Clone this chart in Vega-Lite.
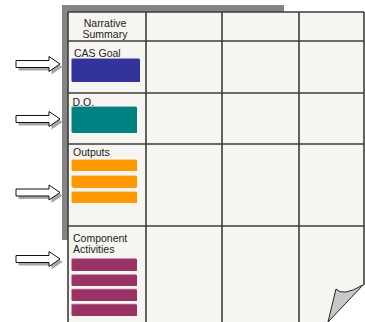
{
  "$schema": "https://vega.github.io/schema/vega-lite/v6.json",
  "width": 365,
  "height": 322,
  "padding": 0,
  "autosize": {"type": "none"},
  "background": "white",
  "config": {"view": {"stroke": null}},
  "encoding": {
    "x": {"field": "x", "type": "quantitative", "axis": null, "scale": {"domain": [0, 365], "nice": false, "zero": false}},
    "y": {"field": "y", "type": "quantitative", "axis": null, "scale": {"domain": [0, 322], "nice": false, "zero": false, "reverse": true}}
  },
  "layer": [
    {
      "data": {"values": [
        {"part": "shadow", "x": 62, "x2": 284, "y": 5, "y2": 240, "c": "#858585"},
        {"part": "page", "x": 68, "x2": 364, "y": 12, "y2": 322, "c": "#f6f5f1"}
      ]},
      "mark": {"type": "rect"},
      "encoding": {
        "x2": {"field": "x2"},
        "y2": {"field": "y2"},
        "color": {"field": "c", "type": "nominal", "scale": null, "legend": null}
      }
    },
    {
      "data": {"values": [
        {"x": 68, "x2": 68, "y": 12, "y2": 322},
        {"x": 146, "x2": 146, "y": 12, "y2": 322},
        {"x": 222, "x2": 222, "y": 12, "y2": 322},
        {"x": 299, "x2": 299, "y": 12, "y2": 322},
        {"x": 364, "x2": 364, "y": 12, "y2": 286},
        {"x": 68, "x2": 364, "y": 12, "y2": 12},
        {"x": 68, "x2": 364, "y": 41, "y2": 41},
        {"x": 68, "x2": 364, "y": 93, "y2": 93},
        {"x": 68, "x2": 364, "y": 144, "y2": 144},
        {"x": 68, "x2": 364, "y": 226, "y2": 226}
      ]},
      "mark": {"type": "rule", "color": "#3c3c3c", "strokeWidth": 1.6},
      "encoding": {"x2": {"field": "x2"}, "y2": {"field": "y2"}}
    },
    {
      "data": {"values": [
        {"x": 72, "x2": 140, "y": 59, "y2": 82, "c": "#333399", "d": "#1c1c66", "l": "#7777cc"},
        {"x": 72, "x2": 137, "y": 107, "y2": 133, "c": "#008080", "d": "#004d4d", "l": "#66b3b3"},
        {"x": 72, "x2": 137, "y": 160, "y2": 171, "c": "#ff9900", "d": "#b36b00", "l": "#ffc266"},
        {"x": 72, "x2": 137, "y": 176, "y2": 187.5, "c": "#ff9900", "d": "#b36b00", "l": "#ffc266"},
        {"x": 72, "x2": 137, "y": 192, "y2": 203, "c": "#ff9900", "d": "#b36b00", "l": "#ffc266"},
        {"x": 72, "x2": 137, "y": 259, "y2": 271, "c": "#993366", "d": "#5c1f3d", "l": "#c27a9e"},
        {"x": 72, "x2": 137, "y": 275, "y2": 286, "c": "#993366", "d": "#5c1f3d", "l": "#c27a9e"},
        {"x": 72, "x2": 137, "y": 289.5, "y2": 301, "c": "#993366", "d": "#5c1f3d", "l": "#c27a9e"},
        {"x": 72, "x2": 137, "y": 304.5, "y2": 316, "c": "#993366", "d": "#5c1f3d", "l": "#c27a9e"}
      ]},
      "layer": [
        {
          "mark": {"type": "rect", "cornerRadius": 1.5, "xOffset": -0.8, "yOffset": -0.8},
          "encoding": {"x2": {"field": "x2"}, "y2": {"field": "y2"}, "color": {"field": "l", "type": "nominal", "scale": null, "legend": null}}
        },
        {
          "mark": {"type": "rect", "cornerRadius": 1.5, "xOffset": 1, "yOffset": 1},
          "encoding": {"x2": {"field": "x2"}, "y2": {"field": "y2"}, "color": {"field": "d", "type": "nominal", "scale": null, "legend": null}}
        },
        {
          "mark": {"type": "rect", "cornerRadius": 1.5},
          "encoding": {"x2": {"field": "x2"}, "y2": {"field": "y2"}, "color": {"field": "c", "type": "nominal", "scale": null, "legend": null}}
        }
      ]
    },
    {
      "data": {"values": [
        {"t": "Narrative", "x": 105, "y": 27, "a": "center"},
        {"t": "Summary", "x": 105, "y": 37.5, "a": "center"},
        {"t": "CAS Goal", "x": 74, "y": 57, "a": "left"},
        {"t": "D.O.", "x": 72.5, "y": 105.5, "a": "left"},
        {"t": "Outputs", "x": 73, "y": 156, "a": "left"},
        {"t": "Component", "x": 73, "y": 242, "a": "left"},
        {"t": "Activities", "x": 73, "y": 252.5, "a": "left"}
      ]},
      "layer": [
        {
          "transform": [{"filter": "datum.a == 'center'"}],
          "mark": {"type": "text", "font": "Liberation Sans", "fontSize": 10.5, "color": "#222222", "align": "center", "baseline": "alphabetic"},
          "encoding": {"text": {"field": "t"}}
        },
        {
          "transform": [{"filter": "datum.a == 'left'"}],
          "mark": {"type": "text", "font": "Liberation Sans", "fontSize": 10.5, "color": "#222222", "align": "left", "baseline": "alphabetic"},
          "encoding": {"text": {"field": "t"}}
        }
      ]
    },
    {
      "data": {"values": [
        {"x": 38, "y": 64},
        {"x": 38, "y": 119},
        {"x": 38, "y": 192.5},
        {"x": 38, "y": 259}
      ]},
      "layer": [
        {
          "mark": {"type": "point", "shape": "M-22,-3.5 L11,-3.5 L11,-7.5 L22,0 L11,7.5 L11,3.5 L-22,3.5 Z", "size": 4, "filled": true, "fill": "#a6a6a6", "stroke": null, "opacity": 1, "xOffset": 2.5, "yOffset": 3}
        },
        {
          "mark": {"type": "point", "shape": "M-22,-3.5 L11,-3.5 L11,-7.5 L22,0 L11,7.5 L11,3.5 L-22,3.5 Z", "size": 4, "filled": true, "fill": "#ffffff", "stroke": "#111111", "strokeWidth": 1, "opacity": 1}
        }
      ]
    },
    {
      "data": {"values": [{"x": 346, "y": 304}]},
      "layer": [
        {
          "mark": {"type": "point", "shape": "M-18,18 L18,-19 L22,-19 L22,22 L-18,22 Z", "size": 4, "filled": true, "fill": "#ffffff", "stroke": null, "opacity": 1}
        },
        {
          "mark": {"type": "point", "shape": "M-18,18 L-10,-15 Q-3.5,-7 17,-19 Z", "size": 4, "filled": true, "fill": "#c8c8c8", "stroke": "#222222", "strokeWidth": 1, "opacity": 1}
        }
      ]
    }
  ]
}
